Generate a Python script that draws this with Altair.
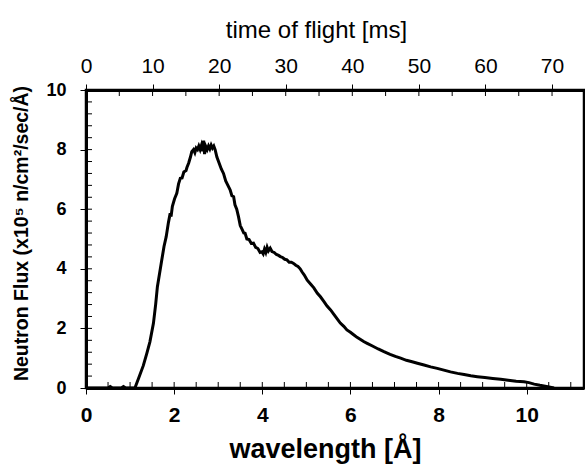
import altair as alt
import pandas as pd

# ---- data ----
lam = [0.0, 0.30, 0.50, 0.55, 0.60, 0.80, 0.85, 0.90, 1.05, 1.11,
       1.20, 1.30, 1.38, 1.45, 1.53, 1.58, 1.62, 1.67, 1.72, 1.77,
       1.82, 1.87, 1.91, 1.93, 1.96, 2.01, 2.06, 2.10, 2.14, 2.18,
       2.22, 2.27, 2.29, 2.33, 2.37, 2.40, 2.44, 2.47, 2.50, 2.53,
       2.56, 2.59, 2.62, 2.65, 2.67, 2.69, 2.72, 2.75, 2.78, 2.81,
       2.84, 2.87, 2.90, 2.93, 2.97, 3.02, 3.07, 3.12, 3.17, 3.22,
       3.27, 3.31, 3.35, 3.38, 3.42, 3.46, 3.50, 3.55, 3.58, 3.61,
       3.65, 3.70, 3.75, 3.80, 3.85, 3.90, 3.95, 3.99, 4.02, 4.05,
       4.08, 4.11, 4.14, 4.18, 4.22, 4.27, 4.32, 4.37, 4.41, 4.46,
       4.51, 4.56, 4.61, 4.66, 4.71, 4.76, 4.81, 4.86, 4.90, 4.95,
       5.02, 5.10, 5.17, 5.25, 5.32, 5.40, 5.47, 5.55, 5.62, 5.70,
       5.77, 5.85, 5.92, 6.00, 6.08, 6.15, 6.23, 6.30, 6.38, 6.50,
       6.63, 6.76, 6.90, 7.02, 7.14, 7.27, 7.40, 7.52, 7.67, 7.82,
       7.97, 8.12, 8.27, 8.43, 8.58, 8.73, 8.88, 9.05, 9.23, 9.41,
       9.58, 9.76, 9.94, 10.05, 10.17, 10.30, 10.45, 10.62]
flux = [0.0, 0.0, 0.0, 0.05, 0.0, 0.0, 0.05, 0.0, 0.0, 0.0,
        0.35, 0.75, 1.16, 1.55, 2.17, 2.80, 3.40, 3.85, 4.30, 4.75,
        5.08, 5.55, 5.86, 5.75, 6.10, 6.35, 6.53, 6.85, 7.04, 7.05,
        7.25, 7.30, 7.40, 7.55, 7.75, 7.93, 8.00, 7.90, 8.05, 8.00,
        8.12, 8.00, 8.15, 7.95, 8.30, 7.85, 8.10, 8.00, 8.12, 8.02,
        8.15, 8.05, 8.12, 8.00, 7.75, 7.55, 7.35, 7.20, 6.95, 6.80,
        6.65, 6.45, 6.42, 6.15, 6.00, 5.75, 5.45, 5.30, 5.20, 5.19,
        5.00, 4.98, 4.85, 4.86, 4.72, 4.68, 4.55, 4.57, 4.50, 4.66,
        4.55, 4.72, 4.60, 4.69, 4.58, 4.55, 4.48, 4.45, 4.41, 4.38,
        4.32, 4.30, 4.22, 4.22, 4.18, 4.12, 4.08, 4.00, 3.90, 3.80,
        3.62, 3.48, 3.36, 3.18, 3.06, 2.90, 2.75, 2.62, 2.48, 2.32,
        2.18, 2.07, 1.95, 1.87, 1.78, 1.70, 1.63, 1.56, 1.50, 1.41,
        1.31, 1.22, 1.13, 1.06, 1.00, 0.93, 0.88, 0.83, 0.77, 0.71,
        0.66, 0.60, 0.54, 0.49, 0.45, 0.41, 0.38, 0.35, 0.32, 0.29,
        0.26, 0.23, 0.21, 0.18, 0.13, 0.09, 0.05, 0.0]

x_major = [0, 2, 4, 6, 8, 10]
x_minor = [0.5 * i for i in range(1, 23)]
y_major = [0, 2, 4, 6, 8, 10]
y_minor = [round(0.4 * i, 1) for i in range(1, 25)]
t_major = [0, 10, 20, 30, 40, 50, 60, 70]
t_minor = [5 * i for i in range(1, 15)]

X_DOMAIN = [0, 11.3]
T_DOMAIN = [0, 74.8]
Y_DOMAIN = [0, 10]
W, H = 498, 298
FONT = "Liberation Sans"

df = pd.DataFrame({"lam": lam, "flux": flux})
xs = alt.Scale(domain=X_DOMAIN, nice=False, zero=False)
ts = alt.Scale(domain=T_DOMAIN, nice=False, zero=False)
ys = alt.Scale(domain=Y_DOMAIN, nice=False)

y_axis = alt.Axis(
    values=y_major, title="Neutron Flux (x10⁵ n/cm²/sec/Å)",
    tickSize=6, tickWidth=1, tickColor="black",
    labelFont=FONT, labelFontSize=18, labelFontWeight="bold",
    labelColor="black", labelPadding=14, labelFlush=False,
    titleFont=FONT, titleFontSize=19.5, titleFontWeight="bold",
    titleColor="black", titleX=-65, titleY=143, titleAngle=270,
    titleAlign="center", titleBaseline="middle",
    grid=False, domain=True, domainColor="black", domainWidth=3)

line = alt.Chart(df).mark_line(color="black", strokeWidth=3).encode(
    x=alt.X("lam:Q", scale=xs, axis=alt.Axis(
        values=x_major, title="wavelength [Å]", orient="bottom",
        tickSize=6, tickWidth=1, tickColor="black",
        labelFont=FONT, labelFontSize=21, labelFontWeight="bold",
        labelColor="black", labelPadding=10, labelFlush=False,
        titleFont=FONT, titleFontSize=27, titleFontWeight="bold",
        titleColor="black", titleX=239, titleY=69,
        titleAlign="center", titleBaseline="alphabetic",
        grid=False, domain=True, domainColor="black", domainWidth=3)),
    y=alt.Y("flux:Q", scale=ys, axis=y_axis),
)

top = alt.Chart(pd.DataFrame({"t": t_major})).mark_point(opacity=0).encode(
    x=alt.X("t:Q", scale=ts, axis=alt.Axis(
        values=t_major, title="time of flight [ms]", orient="top",
        tickSize=6, tickWidth=1, tickColor="black",
        labelFont=FONT, labelFontSize=21, labelColor="black",
        labelFontWeight="normal",
        labelPadding=8, labelFlush=False,
        titleFont=FONT, titleFontSize=24, titleColor="black",
        titleFontWeight="normal",
        titleX=230, titleY=-53, titleAlign="center",
        titleBaseline="alphabetic", grid=False,
        domain=True, domainColor="black", domainWidth=3)),
)

bottom_ticks = alt.Chart(pd.DataFrame({"v": x_minor})).mark_rule(
    color="black", strokeWidth=1).encode(
    x=alt.X("v:Q", scale=xs, axis=None),
    y=alt.value(H), y2=alt.value(H - 6))

top_ticks = alt.Chart(pd.DataFrame({"v": t_minor})).mark_rule(
    color="black", strokeWidth=1).encode(
    x=alt.X("v:Q", scale=ts, axis=None),
    y=alt.value(0), y2=alt.value(6))

left_ticks = alt.Chart(pd.DataFrame({"v": y_minor})).mark_rule(
    color="black", strokeWidth=1).encode(
    y=alt.Y("v:Q", scale=ys, axis=y_axis),
    x=alt.value(0), x2=alt.value(6))

chart = alt.layer(
    line, top, bottom_ticks, top_ticks, left_ticks
).resolve_scale(x="independent").properties(
    width=W, height=H,
    autosize="none",
    background="white",
    padding={"left": 86, "top": 90, "right": 1, "bottom": 76},
).configure_view(stroke="black", strokeWidth=2.5)

chart.save("out.html", embed_options={"renderer": "svg", "actions": False})
